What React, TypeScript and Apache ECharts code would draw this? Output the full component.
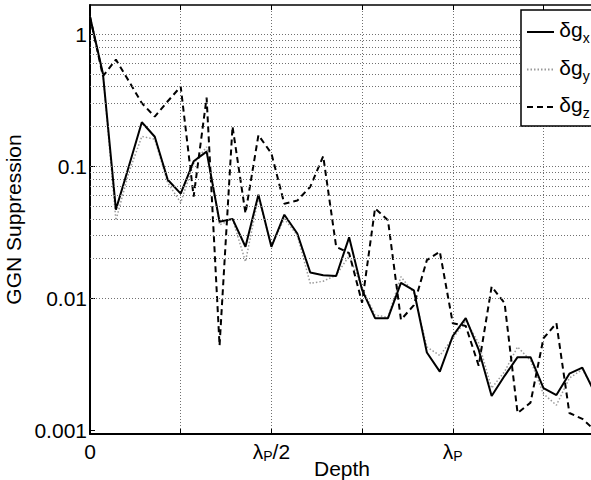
import React, { useEffect, useRef } from "react";
import * as echarts from "echarts";

// Sample index along depth (7 samples per quarter of λP)
const gx = [1.35, 0.5, 0.047, 0.1, 0.215, 0.167, 0.079, 0.062, 0.109, 0.129,
  0.038, 0.04, 0.0246, 0.061, 0.0246, 0.043, 0.031, 0.0157, 0.015, 0.0148,
  0.029, 0.0116, 0.0071, 0.0071, 0.0131, 0.0115, 0.0039, 0.0028, 0.0052, 0.0071,
  0.0041, 0.00183, 0.0026, 0.0036, 0.0036, 0.0021, 0.00186, 0.0027, 0.003, 0.0019];
const gy = [1.35, 0.5, 0.039, 0.09, 0.168, 0.16, 0.075, 0.053, 0.105, 0.14,
  0.036, 0.04, 0.019, 0.058, 0.025, 0.04, 0.03, 0.013, 0.0135, 0.015,
  0.021, 0.012, 0.0075, 0.0072, 0.0146, 0.011, 0.0043, 0.0037, 0.005, 0.0068,
  0.0046, 0.0021, 0.0028, 0.0043, 0.0034, 0.0019, 0.00156, 0.0025, 0.0029, 0.002];
const gz = [1.35, 0.48, 0.64, 0.44, 0.3, 0.237, 0.31, 0.4, 0.059, 0.33,
  0.0044, 0.2, 0.044, 0.172, 0.125, 0.052, 0.055, 0.07, 0.119, 0.0246,
  0.022, 0.0093, 0.048, 0.039, 0.0069, 0.0089, 0.0195, 0.0226, 0.0065, 0.0062,
  0.0031, 0.0123, 0.0092, 0.00136, 0.00163, 0.005, 0.0065, 0.00136, 0.00123, 0.001];

const seriesNames = ["δgx", "δgy", "δgz"];
const xAxisTitle = "Depth";
const yAxisTitle = "GGN Suppression";
const xTickLabels: Record<number, string> = {
  0: "{a|0}",
  14: "{a|λ}{s|P}{a|/2}",
  28: "{a|λ}{s|P}",
};
const yTickLabels: Record<number, string> = { [-3]: "0.001", [-2]: "0.01", [-1]: "0.1", 0: "1" };
const gridDecades = [-3, -2, -1, 0];
const gridMantissas = [1, 2, 3, 4, 5, 6, 7, 8, 9];

const X_MAX = 38.9;
const Y_MIN = 0.000944;
const Y_MAX = 1.657;
const FONT = "Liberation Sans, Arial, Helvetica, sans-serif";

export default function App() {
  const ref = useRef<HTMLDivElement>(null);
  useEffect(() => {
    if (!ref.current) return;
    const chart = echarts.init(ref.current, undefined, { renderer: "svg" });
    const gridVals: number[] = [];
    gridDecades.forEach((d) =>
      gridMantissas.forEach((m) => {
        const v = m * Math.pow(10, d);
        if (v >= Y_MIN && v <= Y_MAX) gridVals.push(v);
      })
    );
    const toPts = (arr: number[]) => arr.map((v, i) => [i, v]);
    const gridLineStyle = { color: "#707070", type: [1, 2] as number[], width: 1 };
    chart.setOption({
      animation: false,
      backgroundColor: "#fff",
      textStyle: { fontFamily: FONT },
      grid: { left: 90, top: 5, bottom: 46, right: -3, outerBoundsMode: "none", containLabel: false },
      graphic: [
        {
          type: "text",
          x: 342,
          y: 479,
          silent: true,
          style: {
            text: xAxisTitle,
            fontSize: 21,
            fontFamily: FONT,
            fill: "#000",
            align: "center",
            verticalAlign: "bottom",
          },
        },
      ],
      xAxis: [
        {
          type: "value",
          min: 0,
          max: X_MAX,
          interval: 7,
          position: "bottom",
          axisLine: { show: true, lineStyle: { color: "#000", width: 2 } },
          axisTick: { show: true, inside: true, length: 5, lineStyle: { color: "#000", width: 1 } },
          axisLabel: {
            margin: 5,
            color: "#000",
            showMaxLabel: false,
            formatter: (v: number) => xTickLabels[v] ?? "",
            rich: {
              a: { fontSize: 21, lineHeight: 24, color: "#000", fontFamily: FONT },
              s: { fontSize: 14, lineHeight: 10, verticalAlign: "bottom", color: "#000", fontFamily: FONT },
            },
          },
          splitLine: { show: true, lineStyle: gridLineStyle },
        },
        {
          type: "value",
          min: 0,
          max: X_MAX,
          interval: 7,
          position: "top",
          axisLine: { show: true, lineStyle: { color: "#000", width: 1.5 } },
          axisTick: { show: true, inside: true, length: 5, lineStyle: { color: "#000", width: 1 } },
          axisLabel: { show: false },
          splitLine: { show: false },
        },
      ],
      yAxis: {
        type: "log",
        logBase: 10,
        min: Y_MIN,
        max: Y_MAX,
        name: yAxisTitle,
        nameLocation: "middle",
        nameGap: 54,
        nameTextStyle: { fontSize: 21, color: "#000", fontFamily: FONT },
        axisLine: { show: true, lineStyle: { color: "#000", width: 2 } },
        axisTick: { show: true, inside: true, length: 5, lineStyle: { color: "#000", width: 1 } },
        axisLabel: {
          margin: 3,
          fontSize: 21,
          color: "#000",
          fontFamily: FONT,
          showMinLabel: false,
          showMaxLabel: false,
          formatter: (v: number) => {
            const l = Math.log10(v);
            const r = Math.round(l);
            if (Math.abs(l - r) < 1e-6 && yTickLabels[r] !== undefined) return yTickLabels[r];
            return "";
          },
        },
        splitLine: { show: false },
      },
      legend: {
        data: seriesNames,
        orient: "vertical",
        left: 521,
        top: 10,
        padding: [9, 5, 6, 5],
        itemGap: 11.5,
        itemWidth: 27,
        itemHeight: 14,
        backgroundColor: "#fff",
        borderColor: "#000",
        borderWidth: 1.5,
        borderRadius: 0,
        selectedMode: false,
        z: 10,
        itemStyle: { opacity: 0 },
        formatter: (name: string) => `{z| }{m|δg}{s|${name.slice(2)}}`,
        textStyle: {
          color: "#000",
          fontFamily: FONT,
          rich: {
            z: { fontSize: 1, lineHeight: 26 },
            m: { fontSize: 21, lineHeight: 14, verticalAlign: "top", color: "#000", fontFamily: FONT },
            s: { fontSize: 14, lineHeight: 12, verticalAlign: "bottom", color: "#000", fontFamily: FONT },
          },
        },
      },
      series: [
        {
          name: "grid",
          type: "line",
          data: toPts(gx),
          symbol: "none",
          silent: true,
          lineStyle: { opacity: 0 },
          z: 1,
          markLine: {
            silent: true,
            symbol: ["none", "none"],
            label: { show: false },
            lineStyle: gridLineStyle,
            emphasis: { disabled: true },
            data: gridVals.map((v) => ({ yAxis: v })),
          },
        },
        {
          name: seriesNames[0],
          type: "line",
          data: toPts(gx),
          symbol: "none",
          showSymbol: false,
          lineStyle: { color: "#000", width: 2, type: "solid" },
          itemStyle: { color: "#000" },
          z: 3,
        },
        {
          name: seriesNames[1],
          type: "line",
          data: toPts(gy),
          symbol: "none",
          showSymbol: false,
          lineStyle: { color: "#9a9a9a", width: 1.5, type: [1.5, 2] },
          itemStyle: { color: "#9a9a9a" },
          z: 2,
        },
        {
          name: seriesNames[2],
          type: "line",
          data: toPts(gz),
          symbol: "none",
          showSymbol: false,
          lineStyle: { color: "#000", width: 2, type: [6, 4] },
          itemStyle: { color: "#000" },
          z: 4,
        },
      ],
    });
    return () => chart.dispose();
  }, []);
  return (
    <div
      ref={ref}
      style={{ position: "fixed", left: 0, top: 0, width: 591, height: 480, background: "#fff" }}
    />
  );
}
